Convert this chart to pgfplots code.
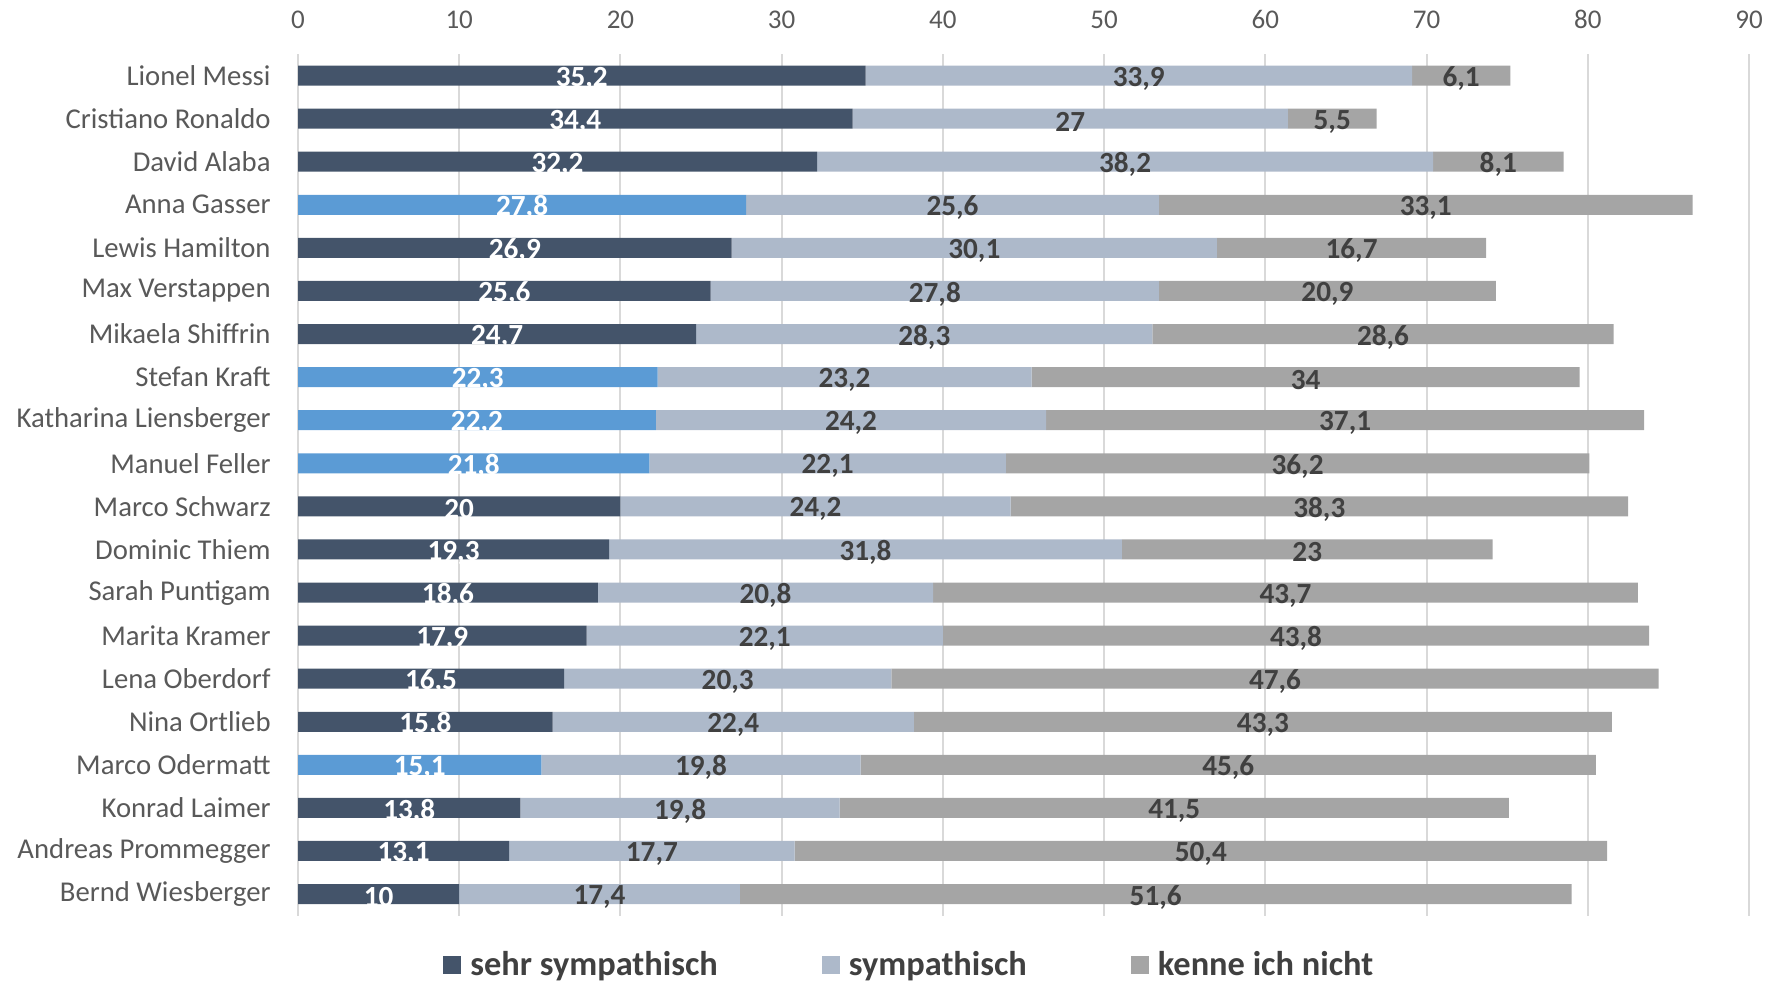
\documentclass[border=0pt]{standalone}
\usepackage{pgfplots}
\pgfplotsset{compat=1.18}
\usepackage{pgfplotstable}
\usepackage{fontspec}
\setmainfont{Carlito}

\definecolor{sehr}{HTML}{44546A}
\definecolor{hell}{HTML}{5B9BD5}
\definecolor{symp}{HTML}{ADB9CA}
\definecolor{kenne}{HTML}{A5A5A5}
\definecolor{txt}{HTML}{595959}
\definecolor{lbl}{HTML}{404040}
\definecolor{gridc}{HTML}{D9D9D9}

% idx: row from top; sehr/hell: "sehr sympathisch" (hell = highlighted rows)
\pgfplotstableread{
idx sehr hell symp kenne
0  35.2 0    33.9 6.1
1  34.4 0    27   5.5
2  32.2 0    38.2 8.1
3  0    27.8 25.6 33.1
4  26.9 0    30.1 16.7
5  25.6 0    27.8 20.9
6  24.7 0    28.3 28.6
7  0    22.3 23.2 34
8  0    22.2 24.2 37.1
9  0    21.8 22.1 36.2
10 20   0    24.2 38.3
11 19.3 0    31.8 23
12 18.6 0    20.8 43.7
13 17.9 0    22.1 43.8
14 16.5 0    20.3 47.6
15 15.8 0    22.4 43.3
16 0    15.1 19.8 45.6
17 13.8 0    19.8 41.5
18 13.1 0    17.7 50.4
19 10   0    17.4 51.6
}\data

\begin{document}
\begin{tikzpicture}
\useasboundingbox (0,0) rectangle (886bp,491bp);
\begin{axis}[
  at={(149bp,33.2bp)}, anchor=south west,
  scale only axis, width=725.5bp, height=430.8bp,
  xbar stacked, bar width=10bp,
  xmin=0, xmax=90, xtick={0,10,...,90},
  ymin=-0.5, ymax=19.5, y dir=reverse,
  ytick={0,...,19},
  yticklabels={Lionel Messi, Cristiano Ronaldo, David Alaba, Anna Gasser,
    Lewis Hamilton, Max Verstappen, Mikaela Shiffrin, Stefan Kraft,
    Katharina Liensberger, Manuel Feller, Marco Schwarz, Dominic Thiem,
    Sarah Puntigam, Marita Kramer, Lena Oberdorf, Nina Ortlieb,
    Marco Odermatt, Konrad Laimer, Andreas Prommegger, Bernd Wiesberger},
  xticklabel pos=upper,
  axis line style={draw=none},
  major tick length=0pt,
  xmajorgrids, grid style={gridc, line width=1bp},
  /pgf/number format/assume math mode=true,
  /pgf/number format/use comma,
  xticklabel style={font=\fontsize{13.5bp}{16bp}\selectfont, text=txt,
    inner sep=0pt, anchor=south, yshift=12.5bp},
  yticklabel style={font=\fontsize{14.35bp}{17bp}\selectfont, text=txt,
    inner sep=0pt, anchor=east, xshift=-13.5bp},
  point meta=explicit,
  % stacked bars: labels sit in the middle of each segment; zero segments get none
  nodes near coords={\pgfmathfloatifflags{\pgfplotspointmeta}{0}{}{\pgfmathprintnumber{\pgfplotspointmeta}}},
  every node near coord/.append style={font=\bfseries\fontsize{14.6bp}{16bp}\selectfont,
    anchor=center, inner sep=0pt, yshift=-1.5bp},
  legend image code/.code={\fill[#1, draw=none] (0bp,-4.5bp) rectangle (9bp,4.5bp);},
  legend columns=3,
  legend style={at={(0.0999,-0.0573)}, anchor=west, draw=none, fill=none,
    inner sep=0pt, nodes={inner sep=0pt},
    font=\bfseries\fontsize{17.2bp}{20bp}\selectfont, text=lbl,
    /tikz/every odd column/.append style={column sep=4.5bp},
    /tikz/every even column/.append style={column sep=52bp}},
]
\addplot[fill=sehr, draw=none, every node near coord/.append style={text=white}]
  table[x=sehr, y=idx, meta=sehr] {\data};
\addplot[fill=hell, draw=none, forget plot, every node near coord/.append style={text=white}]
  table[x=hell, y=idx, meta=hell] {\data};
\addplot[fill=symp, draw=none, every node near coord/.append style={text=lbl}]
  table[x=symp, y=idx, meta=symp] {\data};
\addplot[fill=kenne, draw=none, every node near coord/.append style={text=lbl}]
  table[x=kenne, y=idx, meta=kenne] {\data};
\legend{sehr sympathisch, sympathisch, kenne ich nicht}
\end{axis}
\end{tikzpicture}
\end{document}
